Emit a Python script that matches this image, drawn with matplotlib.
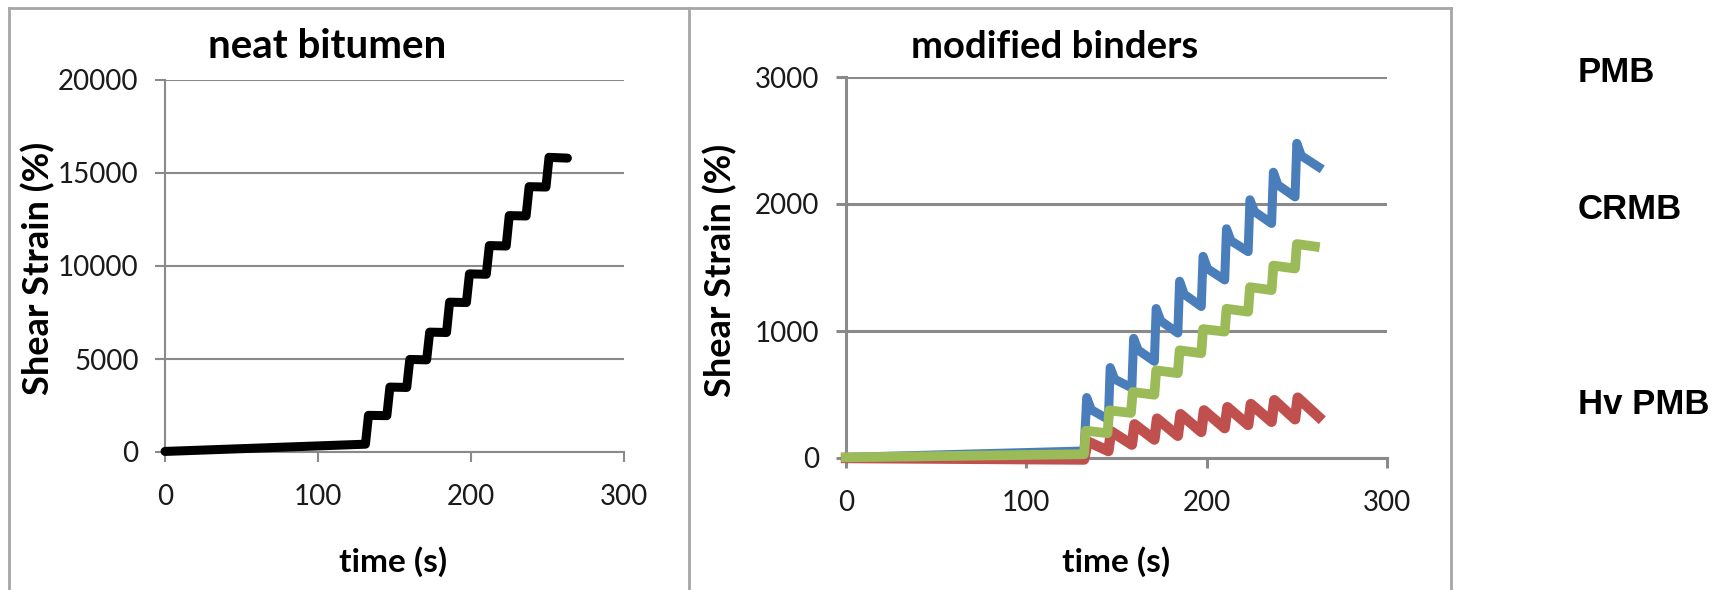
import matplotlib.pyplot as plt
from matplotlib.lines import Line2D

# neat bitumen (black)
neat_t = [0, 131, 133, 145, 147, 158, 160, 171, 173, 184, 186, 197, 199,
          210, 212, 223, 225, 236, 238, 249, 251, 263]
neat_y = [30, 420, 1970, 1955, 3490, 3470, 4976, 4955, 6444, 6425, 8055, 8035,
          9577, 9555, 11098, 11075, 12709, 12690, 14266, 14245, 15842, 15800]

# modified binders
pmb_t = [0, 132, 133.5, 136, 145.5, 146.5, 149, 158.5, 159.5, 162, 171, 172, 174.5,
         184, 185, 187.5, 197, 198, 200.5, 210, 211, 213.5, 223, 224, 226.5,
         236, 237, 239.5, 249, 250, 252.5, 262]
pmb_y = [5, 55, 476, 380, 303, 712, 620, 552, 942, 850, 761, 1177, 1080,
         984, 1392, 1290, 1193, 1588, 1490, 1402, 1805, 1710, 1625, 2033, 1940,
         1847, 2250, 2150, 2056, 2478, 2380, 2292]

crmb_t = [0, 132, 133, 145, 146, 158, 159, 171, 172, 184, 185, 197, 198,
          210, 211, 223, 224, 236, 237, 249, 250, 260]
crmb_y = [5, 30, 215, 195, 375, 355, 520, 498, 690, 668, 848, 825, 1015,
          995, 1175, 1152, 1345, 1322, 1515, 1492, 1685, 1665]

hvpmb_t = [0, 132, 134, 145.5, 147, 158.5, 160, 171, 172.5, 184, 185.5, 197, 198.5,
           210, 211.5, 223, 224.5, 236, 237.5, 249, 250.5, 262]
hvpmb_y = [0, -12, 130, 55, 210, 105, 265, 145, 310, 175, 345, 205, 375,
           235, 400, 260, 425, 285, 455, 305, 475, 325]

xticks = [0, 100, 200, 300]
yticks_neat = [0, 5000, 10000, 15000, 20000]
yticks_mod = [0, 1000, 2000, 3000]
labels_right = ['PMB', 'CRMB', 'Hv PMB']

W, H = 1731, 590
plt.rcParams['font.family'] = ['Lato', 'DejaVu Sans']
fig = plt.figure(figsize=(W / 100, H / 100), dpi=100)

ax1 = fig.add_axes([165 / W, 1 - 452 / H, 459 / W, (452 - 80) / H])
ax2 = fig.add_axes([846 / W, 1 - 458 / H, 541 / W, (458 - 77) / H])

ax1.plot(neat_t, neat_y, color='black', lw=6.5, solid_capstyle='round', clip_on=False, zorder=3)
ax2.plot(pmb_t, pmb_y, color='#4a7ebb', lw=6.5, clip_on=False, zorder=3)
ax2.plot(hvpmb_t, hvpmb_y, color='#c0504d', lw=7.5, clip_on=False, zorder=3)
ax2.plot(crmb_t, crmb_y, color='#9bbb59', lw=7, clip_on=False, zorder=4)

for ax, yt, ylim, glw in [(ax1, yticks_neat, 20000, 1.5), (ax2, yticks_mod, 3000, 2.2)]:
    ax.set_xlim(0, 300)
    ax.set_ylim(0, ylim)
    ax.set_xticks(xticks)
    ax.set_yticks(yt)
    ax.yaxis.grid(True, color='#8a8a8a', lw=glw)
    ax.set_axisbelow(True)
    for s in ['top', 'right']:
        ax.spines[s].set_visible(False)
    for s in ['left', 'bottom']:
        ax.spines[s].set_color('#8a8a8a')
        ax.spines[s].set_linewidth(glw)
    ax.tick_params(direction='out', length=7, width=glw, color='#8a8a8a',
                   labelsize=20, labelcolor='#1a1a1a')
    ax.tick_params(axis='y', pad=12)
    ax.tick_params(axis='x', pad=16)

# titles and axis labels
fig.text(327 / W, 1 - 47 / H, 'neat bitumen', ha='center', va='center', fontsize=29, fontweight='bold')
fig.text(1055 / W, 1 - 47 / H, 'modified binders', ha='center', va='center', fontsize=27.5, fontweight='bold')
fig.text(38 / W, 1 - 268 / H, 'Shear Strain (%)', rotation=90, ha='center', va='center', fontsize=26, fontweight='bold')
fig.text(720 / W, 1 - 270 / H, 'Shear Strain (%)', rotation=90, ha='center', va='center', fontsize=26, fontweight='bold')
fig.text(393 / W, 1 - 562 / H, 'time (s)', ha='center', va='center', fontsize=24, fontweight='bold')
fig.text(1116 / W, 1 - 562 / H, 'time (s)', ha='center', va='center', fontsize=24, fontweight='bold')

for lab, yy in zip(labels_right, [73, 209, 404]):
    fig.text(1578 / W, 1 - yy / H, lab, ha='left', va='center', fontsize=25,
             fontweight='bold', family='Liberation Sans')

# outer frame and divider
fc = '#a6a6a6'
fig.add_artist(Line2D([9 / W, 1451 / W], [1 - 8 / H, 1 - 8 / H], color=fc, lw=2))
fig.add_artist(Line2D([9 / W, 9 / W], [0, 1 - 8 / H], color=fc, lw=2))
fig.add_artist(Line2D([1451 / W, 1451 / W], [0, 1 - 8 / H], color=fc, lw=2))
fig.add_artist(Line2D([689 / W, 689 / W], [0, 1 - 8 / H], color=fc, lw=2))

fig.savefig('out.png', dpi=100)
